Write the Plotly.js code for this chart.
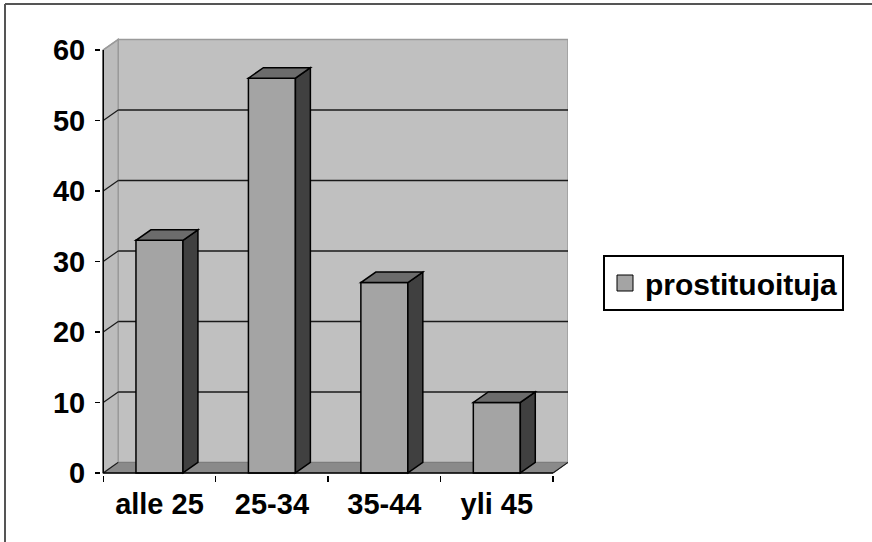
<!DOCTYPE html>
<html>
<head>
<meta charset="utf-8">
<script src="https://cdn.plot.ly/plotly-3.0.1.min.js"></script>
<style>html,body{margin:0;padding:0;background:#fff;}#chart{width:872px;height:542px;}</style>
</head>
<body>
<div id="chart"></div>
<script>
// ---- data ----
const categories = ['alle 25', '25-34', '35-44', 'yli 45'];
const values = [33, 56, 27, 10];
const yTickValues = [0, 10, 20, 30, 40, 50, 60];
const gridValues = [10, 20, 30, 40, 50];
const seriesName = 'prostituoituja';

// ---- styling / geometry ----
const W = 872, H = 542;
const M = {l: 101, r: 304, t: 38, b: 67};
const xRange = [-0.52, 3.633];
const yRange = [-0.3, 61.7];
const DX = 0.133, DY = 1.49;      // 3-D depth in data units
const BW = 0.418;                 // bar width
const FONT = {family: 'Liberation Sans, Arial, sans-serif', size: 29, color: '#000', weight: 'bold'};
const LFONT = {family: 'Liberation Sans, Arial, sans-serif', size: 30, color: '#000', weight: 'bold'};

const C = {
  front: '#a4a4a4', top: '#6c6c6c', side: '#404040',
  wall: '#c0c0c0', wallEdge: '#9a9a9a', floor: '#8a8a8a', grid: '#1a1a1a'
};

const x0 = -0.5, x1 = categories.length - 0.5, yMax = yTickValues[yTickValues.length - 1];
const poly = pts => 'M' + pts.map(p => p[0] + ',' + p[1]).join('L') + 'Z';

const shapes = [];
// back wall
shapes.push({type: 'path', layer: 'below', xref: 'x', yref: 'y',
  path: poly([[x0 + DX, DY], [x1 + DX, DY], [x1 + DX, yMax + DY], [x0 + DX, yMax + DY]]),
  fillcolor: C.wall, line: {color: C.wallEdge, width: 1.5}});
// left wall
shapes.push({type: 'path', layer: 'below', xref: 'x', yref: 'y',
  path: poly([[x0, 0], [x0 + DX, DY], [x0 + DX, yMax + DY], [x0, yMax]]),
  fillcolor: '#bcbcbc', line: {color: C.wallEdge, width: 1.5}});
// floor
shapes.push({type: 'path', layer: 'below', xref: 'x', yref: 'y',
  path: poly([[x0, 0], [x1, 0], [x1 + DX, DY], [x0 + DX, DY]]),
  fillcolor: C.floor, line: {color: '#7a7a7a', width: 1}});
// gridlines on back wall + diagonals on left wall
gridValues.forEach(v => {
  shapes.push({type: 'line', layer: 'below', xref: 'x', yref: 'y',
    x0: x0 + DX, x1: x1 + DX, y0: v + DY, y1: v + DY, line: {color: C.grid, width: 1.5}});
});
yTickValues.forEach(v => {
  shapes.push({type: 'line', layer: 'below', xref: 'x', yref: 'y',
    x0: x0, x1: x0 + DX, y0: v, y1: v + DY,
    line: {color: v === yMax ? C.wallEdge : C.grid, width: 1.2}});
});
// floor right diagonal
shapes.push({type: 'line', layer: 'below', xref: 'x', yref: 'y',
  x0: x1, x1: x1 + DX, y0: 0, y1: DY, line: {color: C.grid, width: 1.2}});
// axis lines
shapes.push({type: 'line', layer: 'above', xref: 'x', yref: 'y',
  x0: x0, x1: x0, y0: 0, y1: yMax, line: {color: '#000', width: 1.5}});
shapes.push({type: 'line', layer: 'above', xref: 'x', yref: 'y',
  x0: x0, x1: x1, y0: 0, y1: 0, line: {color: '#000', width: 1.5}});
// 3-D bar faces
values.forEach((v, i) => {
  const l = i - BW / 2, r = i + BW / 2;
  shapes.push({type: 'path', layer: 'above', xref: 'x', yref: 'y',
    path: poly([[r, 0], [r + DX, DY], [r + DX, v + DY], [r, v]]),
    fillcolor: C.side, line: {color: '#000', width: 1.5}});
  shapes.push({type: 'path', layer: 'above', xref: 'x', yref: 'y',
    path: poly([[l, v], [r, v], [r + DX, v + DY], [l + DX, v + DY]]),
    fillcolor: C.top, line: {color: '#000', width: 1.5}});
});
// outer frame (top and left edges) in paper coordinates
const pw = W - M.l - M.r, ph = H - M.t - M.b;
const px = x => (x - M.l) / pw, py = y => (H - M.b - y) / ph;
shapes.push({type: 'line', xref: 'paper', yref: 'paper', x0: px(5), x1: px(872), y0: py(4), y1: py(4), line: {color: '#555', width: 2}});
shapes.push({type: 'line', xref: 'paper', yref: 'paper', x0: px(5), x1: px(5), y0: py(4), y1: py(542), line: {color: '#555', width: 2}});

const traces = [
  {type: 'bar', x: categories, y: values, width: BW, showlegend: false,
   marker: {color: C.front, line: {color: '#000', width: 1.5}}, hoverinfo: 'skip'},
  {type: 'scatter', mode: 'markers', x: [null], y: [null], name: seriesName, showlegend: true,
   marker: {symbol: 'square', size: 16, color: C.front, line: {color: '#000', width: 1}}}
];

const layout = {
  width: W, height: H, margin: M,
  paper_bgcolor: '#fff', plot_bgcolor: '#fff',
  showlegend: true,
  legend: {x: px(603), y: py(255), xanchor: 'left', yanchor: 'top',
    bordercolor: '#000', borderwidth: 2, bgcolor: '#fff', font: LFONT, itemsizing: 'trace'},
  xaxis: {type: 'category', range: xRange, tickson: 'boundaries', ticks: 'outside', ticklen: 6,
    tickcolor: '#000', tickwidth: 1.5, showgrid: false, showline: false, zeroline: false,
    tickfont: FONT, ticklabelstandoff: 9, fixedrange: true},
  yaxis: {range: yRange, tickvals: yTickValues, ticks: 'outside', ticklen: 5, tickcolor: '#000',
    tickwidth: 1.5, showgrid: false, showline: false, zeroline: false, tickfont: FONT,
    ticklabelstandoff: 4, fixedrange: true},
  shapes: shapes
};

Plotly.newPlot('chart', traces, layout, {staticPlot: true});
</script>
</body>
</html>
